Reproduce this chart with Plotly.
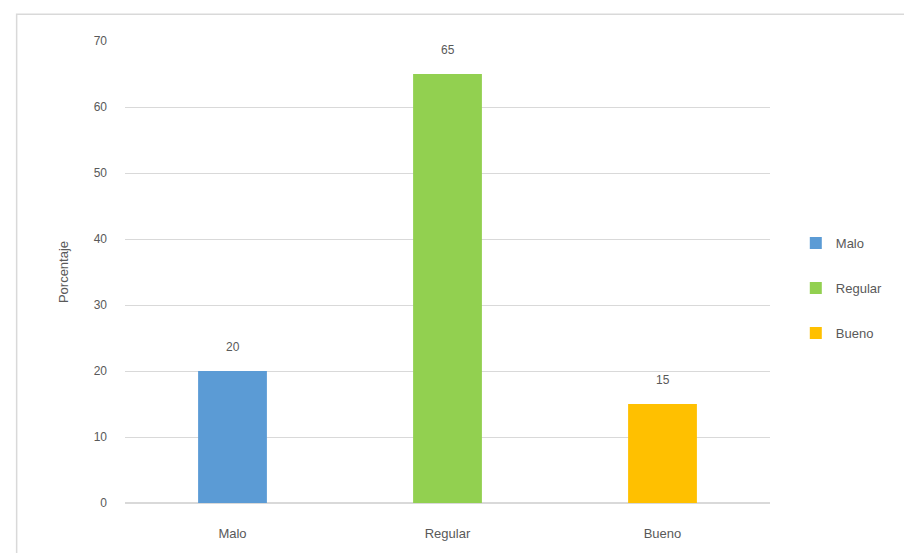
import plotly.graph_objects as go

categories = ["Malo", "Regular", "Bueno"]
values = [20, 65, 15]
colors = ["#5b9bd5", "#92d050", "#ffc000"]
y_ticks = [0, 10, 20, 30, 40, 50, 60, 70]

FONT = "Liberation Sans"
GRAY = "#595959"

fig = go.Figure()
for i, (c, v) in enumerate(zip(categories, values)):
    fig.add_trace(go.Bar(
        x=[c], y=[v], name=c, marker=dict(color=colors[i], line=dict(width=0)),
        width=0.32, legendgroup=c,
    ))
    fig.add_annotation(x=c, y=v, text=str(v), showarrow=False, yanchor="bottom",
                       yshift=15, font=dict(family=FONT, size=12, color=GRAY))

fig.update_layout(
    width=904, height=545,
    margin=dict(l=117, r=142, t=33, b=50),
    paper_bgcolor="white", plot_bgcolor="white",
    barmode="overlay",
    font=dict(family=FONT, size=12, color=GRAY),
    legend=dict(x=1.04, y=0.465, xanchor="left", yanchor="middle",
                traceorder="grouped", tracegroupgap=25, itemwidth=30,
                font=dict(family=FONT, size=13, color=GRAY)),
    xaxis=dict(showgrid=False, showline=False, ticks="", tickfont=dict(size=13),
               ticklabelstandoff=21),
    yaxis=dict(range=[0, 70], tickvals=y_ticks, showgrid=True, gridcolor="#d9d9d9",
               gridwidth=1, zeroline=True, zerolinecolor="#d9d9d9", showline=False,
               ticks="", ticklabelstandoff=17,
               title=dict(text="Porcentaje", font=dict(size=13, color=GRAY), standoff=22)),
    shapes=[dict(type="rect", xref="paper", yref="paper", x0=-0.168, x1=1.4,
                 y0=-0.3, y1=1.058, line=dict(color="#d9d9d9", width=1.5),
                 fillcolor="rgba(0,0,0,0)", layer="below")],
)

fig.write_html("out.html")
